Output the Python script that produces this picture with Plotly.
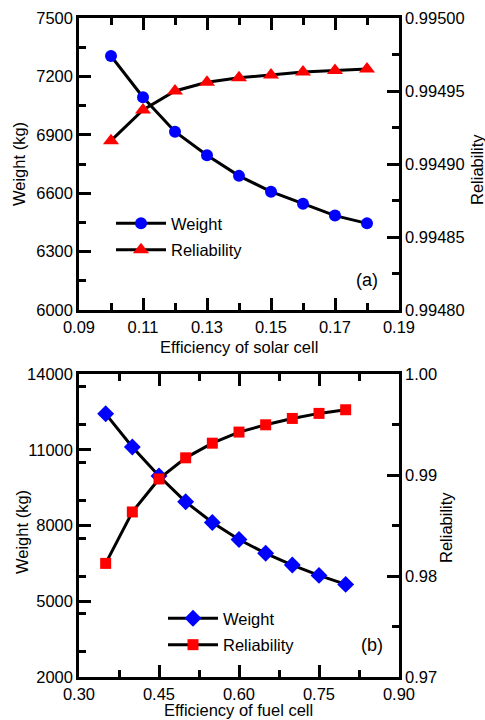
import plotly.graph_objects as go
from plotly.subplots import make_subplots

# Panel (a)
solar_eff = [0.10, 0.11, 0.12, 0.13, 0.14, 0.15, 0.16, 0.17, 0.18]
solar_weight = [7305, 7093, 6916, 6795, 6689, 6608, 6546, 6485, 6445]
solar_rel = [0.994916, 0.994937, 0.994950, 0.994956, 0.994959, 0.994961, 0.994963, 0.994964, 0.994965]

# Panel (b)
fuel_eff = [0.35, 0.40, 0.45, 0.50, 0.55, 0.60, 0.65, 0.70, 0.75, 0.80]
fuel_weight = [12423, 11111, 9959, 8938, 8118, 7443, 6899, 6434, 6024, 5667]
fuel_rel = [0.98125, 0.98634, 0.98961, 0.99170, 0.99315, 0.99425, 0.99497, 0.99560, 0.99610, 0.99646]

FONT = "Liberation Sans, Arial, sans-serif"
BLUE = "#0000FF"
RED = "#FF0000"

fig = make_subplots(rows=2, cols=1, specs=[[{"secondary_y": True}], [{"secondary_y": True}]])

line = dict(color="black", width=3)
fig.add_trace(go.Scatter(x=solar_eff, y=solar_weight, mode="lines+markers", name="Weight",
                         line=line, marker=dict(symbol="circle", size=12, color=BLUE),
                         legend="legend", legendgroup="a1"), row=1, col=1, secondary_y=False)
fig.add_trace(go.Scatter(x=solar_eff, y=solar_rel, mode="lines+markers", name="Reliability",
                         line=line, marker=dict(symbol="triangle-up", size=14, color=RED),
                         legend="legend", legendgroup="a2"), row=1, col=1, secondary_y=True)
fig.add_trace(go.Scatter(x=fuel_eff, y=fuel_weight, mode="lines+markers", name="Weight",
                         line=line, marker=dict(symbol="diamond", size=13, color=BLUE),
                         legend="legend2", legendgroup="b1"), row=2, col=1, secondary_y=False)
fig.add_trace(go.Scatter(x=fuel_eff, y=fuel_rel, mode="lines+markers", name="Reliability",
                         line=line, marker=dict(symbol="square", size=11, color=RED),
                         legend="legend2", legendgroup="b2"), row=2, col=1, secondary_y=True)

W, H = 485, 720
x0, x1 = 79 / W, 399 / W
top_dom = [1 - 310 / H, 1 - 18 / H]
bot_dom = [1 - 677 / H, 1 - 374 / H]

tickfont = dict(family=FONT, size=16.5, color="black")
common = dict(showline=True, linecolor="black", linewidth=2.5, ticks="inside", ticklen=12,
              tickwidth=2.5, tickcolor="black", showgrid=False, zeroline=False,
              tickfont=tickfont, automargin=False)
mn = dict(ticks="inside", ticklen=7, tickwidth=2.5, tickcolor="black")

fig.update_layout(
    template="none",
    width=W, height=H, margin=dict(l=0, r=0, t=0, b=0, autoexpand=False),
    paper_bgcolor="white", plot_bgcolor="white",
    font=dict(family=FONT, size=16, color="black"),
    xaxis=dict(domain=[x0, x1], range=[0.09, 0.19], tick0=0.09, dtick=0.02, tickformat=".2f",
               mirror="ticks", minor=dict(dtick=0.01, tick0=0.09, **mn), **common),
    yaxis=dict(domain=top_dom, range=[6000, 7500], tick0=6000, dtick=300, tickformat="d",
               minor=dict(dtick=150, **mn), **common),
    yaxis2=dict(range=[0.9948, 0.9950], tick0=0.9948, dtick=0.00005, tickformat=".5f",
                minor=dict(dtick=0.000025, **mn), **common),
    xaxis2=dict(domain=[x0, x1], range=[0.30, 0.90], tick0=0.30, dtick=0.15, tickformat=".2f",
                mirror="ticks", minor=dict(dtick=0.075, tick0=0.30, **mn), **common),
    yaxis3=dict(domain=bot_dom, range=[2000, 14000], tick0=2000, dtick=3000, tickformat="d",
                minor=dict(dtick=1500, **mn), **common),
    yaxis4=dict(range=[0.97, 1.00], tick0=0.97, dtick=0.01, tickformat=".2f",
                minor=dict(dtick=0.005, **mn), **common),
    legend=dict(x=111 / W, y=1 - 206 / H, xanchor="left", yanchor="top", bgcolor="rgba(0,0,0,0)",
                font=dict(family=FONT, size=16.5), itemwidth=50, tracegroupgap=2),
    legend2=dict(x=163 / W, y=1 - 601 / H, xanchor="left", yanchor="top", bgcolor="rgba(0,0,0,0)",
                 font=dict(family=FONT, size=16.5), itemwidth=50, tracegroupgap=2),
    showlegend=True,
)
fig.update_yaxes(domain=top_dom, row=1, col=1, secondary_y=True)
fig.update_yaxes(domain=bot_dom, row=2, col=1, secondary_y=True)

ann = dict(showarrow=False, font=dict(family=FONT, size=16.5, color="black"), xref="paper", yref="paper",
           xanchor="center", yanchor="middle")
fig.add_annotation(text="Efficiency of solar cell", x=238.5 / W, y=1 - 347 / H, **ann)
fig.add_annotation(text="Efficiency of fuel cell", x=238 / W, y=1 - 710 / H, **ann)
fig.add_annotation(text="Weight (kg)", textangle=-90, x=19 / W, y=1 - 164 / H, **ann)
fig.add_annotation(text="Weight (kg)", textangle=-90, x=22 / W, y=1 - 532 / H, **ann)
fig.add_annotation(text="Reliability", textangle=-90, x=477 / W, y=1 - 170 / H, **ann)
fig.add_annotation(text="Reliability", textangle=-90, x=446 / W, y=1 - 528 / H, **ann)
ann_big = dict(ann, font=dict(family=FONT, size=18, color="black"))
fig.add_annotation(text="(a)", x=367 / W, y=1 - 280 / H, **ann_big)
fig.add_annotation(text="(b)", x=372 / W, y=1 - 645 / H, **ann_big)

fig.write_html("out.html")
